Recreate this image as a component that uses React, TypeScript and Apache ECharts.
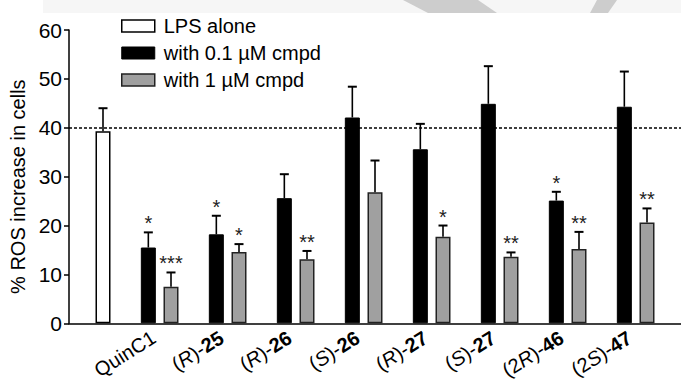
import React, { useEffect, useRef } from "react";
import * as echarts from "echarts";

const categories = ["QuinC1", "(R)-25", "(R)-26", "(S)-26", "(R)-27", "(S)-27", "(2R)-46", "(2S)-47"];
const seriesNames = ["LPS alone", "with 0.1 µM cmpd", "with 1 µM cmpd"];
const lpsMean = 39.3;
const lpsErr = 4.7;
const lpsSig = "";
const lowMeans = [15.5, 18.2, 25.6, 42.1, 35.6, 44.9, 25.1, 44.3];
const lowErr = [3.1, 3.8, 4.9, 6.3, 5.2, 7.7, 1.8, 7.2];
const lowSig = ["*", "*", "", "", "", "", "*", ""];
const highMeans = [7.5, 14.6, 13.1, 26.8, 17.7, 13.6, 15.2, 20.6];
const highErr = [2.9, 1.6, 1.7, 6.5, 2.3, 0.9, 3.5, 2.9];
const highSig = ["***", "*", "**", "", "*", "**", "**", "**"];
const referenceLevel = 40;
const yMin = 0;
const yMax = 60;
const yStep = 10;

const FONT = '"Liberation Sans", Arial, Helvetica, sans-serif';

// slot layout: 27 slots, LPS at slot 1, compound i: black at 3+3i, grey at 4+3i
const SLOT_COUNT = 27;
const LPS_SLOT = 1;
const lowSlot = (i: number) => 3 + 3 * i;
const highSlot = (i: number) => 4 + 3 * i;

function labelText(name: string): string {
  const m = name.match(/^\((\d?)([RS])\)-(\d+)$/);
  if (!m) return name;
  return `(${m[1]}{i|${m[2]}})-{b|${m[3]}}`;
}

export default function App() {
  const ref = useRef<HTMLDivElement>(null);
  useEffect(() => {
    if (!ref.current) return;
    const chart = echarts.init(ref.current, null, { renderer: "svg" });

    const slots = Array.from({ length: SLOT_COUNT }, (_, i) => "s" + i);
    const labelBySlot: Record<number, string> = {};
    categories.forEach((c, i) => (labelBySlot[lowSlot(i)] = c));

    const lpsData: any[] = slots.map(() => "-");
    lpsData[LPS_SLOT] = lpsMean;
    const lowData: any[] = slots.map(() => "-");
    const highData: any[] = slots.map(() => "-");
    lowMeans.forEach((v, i) => (lowData[lowSlot(i)] = v));
    highMeans.forEach((v, i) => (highData[highSlot(i)] = v));

    const errData: any[] = [];
    const errSig: string[] = [];
    errData.push([LPS_SLOT, lpsMean, lpsErr]);
    errSig.push(lpsSig);
    lowMeans.forEach((v, i) => {
      errData.push([lowSlot(i), v, lowErr[i]]);
      errSig.push(lowSig[i]);
    });
    highMeans.forEach((v, i) => {
      errData.push([highSlot(i), v, highErr[i]]);
      errSig.push(highSig[i]);
    });

    const isLabelSlot = (index: number) => labelBySlot[index] !== undefined;

    const styles = [
      { color: "#ffffff", borderColor: "#000000", borderWidth: 1.5 },
      { color: "#000000", borderColor: "#000000", borderWidth: 1 },
      { color: "#a0a0a0", borderColor: "#222222", borderWidth: 1.5 },
    ];

    chart.setOption({
      animation: false,
      textStyle: { fontFamily: FONT, color: "#000" },
      grid: { left: 69, right: 0, top: 30, bottom: 59.7, containLabel: false, outerBoundsMode: "none" },
      legend: {
        orient: "vertical",
        left: 116,
        top: 11,
        itemWidth: 33,
        itemHeight: 12,
        itemGap: 7,
        icon: "rect",
        selectedMode: false,
        textStyle: { fontSize: 20, fontFamily: FONT, color: "#000", padding: [0, 0, 0, 4] },
        data: seriesNames.map((n, i) => ({ name: n, itemStyle: styles[i] })),
      },
      graphic: [
        { type: "rect", shape: { x: 43, y: 0, width: 638, height: 13 }, style: { fill: "#f6f6f6" }, silent: true },
        {
          type: "polygon",
          shape: { points: [[403, 0], [478, 0], [497, 13], [428, 13]] },
          style: { fill: "#cdcdcd" },
          silent: true,
        },
        {
          type: "polygon",
          shape: { points: [[597, 0], [617, 0], [608, 13], [590, 13]] },
          style: { fill: "#cdcdcd" },
          silent: true,
        },
      ],
      xAxis: {
        type: "category",
        data: slots,
        boundaryGap: true,
        axisLine: { lineStyle: { color: "#000", width: 1.5 } },
        axisTick: {
          alignWithLabel: true,
          interval: (index: number) => isLabelSlot(index),
          length: 7,
          lineStyle: { color: "#000", width: 1.5 },
        },
        axisLabel: {
          interval: (index: number) => isLabelSlot(index),
          rotate: 32,
          margin: 4,
          verticalAlign: "top",
          fontSize: 20,
          color: "#000",
          fontFamily: FONT,
          formatter: (_v: string, index: number) => (isLabelSlot(index) ? labelText(labelBySlot[index]) : ""),
          rich: {
            i: { fontStyle: "italic", fontSize: 20, fontFamily: FONT, color: "#000" },
            b: { fontWeight: "bold", fontSize: 20, fontFamily: FONT, color: "#000" },
          },
        },
        splitLine: { show: false },
      },
      yAxis: {
        type: "value",
        min: yMin,
        max: yMax,
        interval: yStep,
        name: "% ROS increase in cells",
        nameLocation: "middle",
        nameGap: 40,
        nameTextStyle: { fontSize: 20, fontFamily: FONT, color: "#000", padding: [0, 20, 0, 0] },
        axisLine: { show: true, lineStyle: { color: "#000", width: 1.5 } },
        axisTick: { show: true, length: 5, lineStyle: { color: "#000", width: 1.5 } },
        axisLabel: { fontSize: 21, color: "#000", margin: 7, fontFamily: FONT },
        splitLine: { show: false },
      },
      series: [
        {
          name: seriesNames[0],
          type: "bar",
          data: lpsData,
          barWidth: 15,
          barGap: "-100%",
          itemStyle: styles[0],
          z: 2,
          markLine: {
            silent: true,
            symbol: "none",
            z: 1,
            label: { show: false },
            lineStyle: { color: "#000", width: 1.5, type: [3, 2] },
            data: [{ yAxis: referenceLevel }],
          },
        },
        {
          name: seriesNames[1],
          type: "bar",
          data: lowData,
          barWidth: 15,
          barGap: "-100%",
          itemStyle: styles[1],
          z: 2,
        },
        {
          name: seriesNames[2],
          type: "bar",
          data: highData,
          barWidth: 15,
          barGap: "-100%",
          itemStyle: styles[2],
          z: 2,
        },
        {
          type: "custom",
          name: "err",
          data: errData,
          encode: { x: 0, y: 1 },
          z: 4,
          silent: true,
          renderItem: (params: any, api: any) => {
            const x = api.value(0);
            const m = api.value(1);
            const e = api.value(2);
            const p0 = api.coord([x, m]);
            const p1 = api.coord([x, m + e]);
            const sig = errSig[params.dataIndex] || "";
            return {
              type: "group",
              children: [
                {
                  type: "line",
                  shape: { x1: p0[0], y1: p0[1], x2: p1[0], y2: p1[1] },
                  style: { stroke: "#000", lineWidth: 1.6 },
                },
                {
                  type: "line",
                  shape: { x1: p1[0] - 4.5, y1: p1[1], x2: p1[0] + 4.5, y2: p1[1] },
                  style: { stroke: "#000", lineWidth: 2 },
                },
                {
                  type: "text",
                  style: {
                    text: sig,
                    x: p1[0],
                    y: p1[1] - 9,
                    align: "center",
                    verticalAlign: "middle",
                    font: `20px ${FONT}`,
                    fill: "#222",
                  },
                },
              ],
            };
          },
        },
      ],
    });
    return () => chart.dispose();
  }, []);
  return (
    <div
      ref={ref}
      style={{ position: "absolute", left: 0, top: 0, width: 681, height: 383, background: "#fff" }}
    />
  );
}
